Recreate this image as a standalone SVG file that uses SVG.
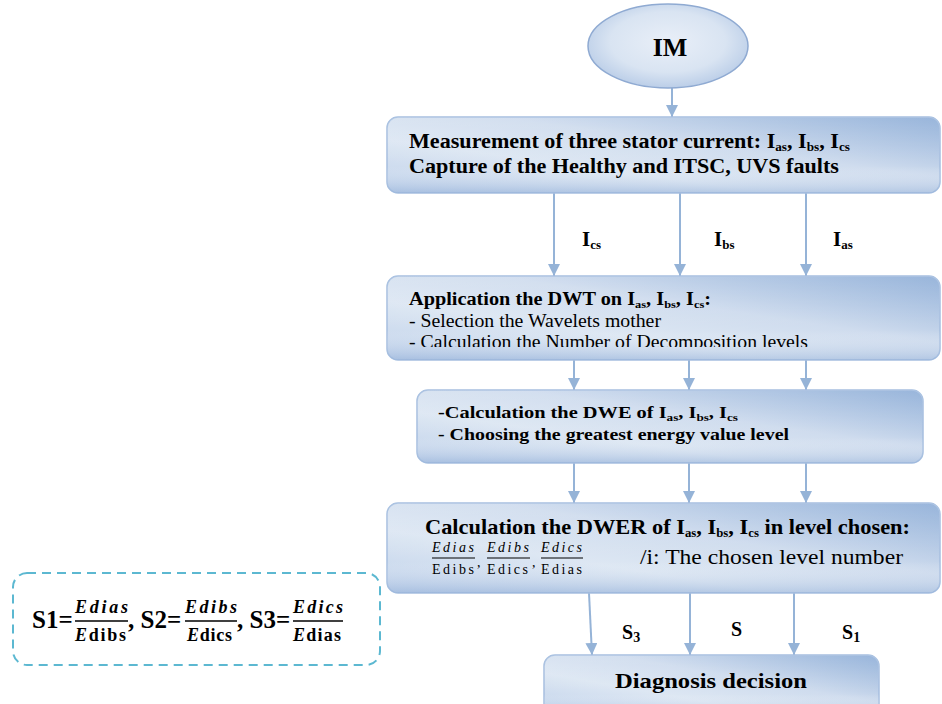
<svg xmlns="http://www.w3.org/2000/svg" width="942" height="704" viewBox="0 0 942 704" font-family="'Liberation Serif', 'DejaVu Serif', serif">
<style>
.box{fill:url(#bg);stroke:#a6bfe0;stroke-width:1.5}
.ov{fill:url(#bg2);stroke:none}
text{font-family:'Liberation Serif','DejaVu Serif',serif;fill:#000}
.b{font-weight:bold}
.c{stroke:#95b3d7;stroke-width:2;fill:none;marker-end:url(#ah)}
.m{font-style:italic}
</style>
<defs>
<linearGradient id="bg" x1="0" y1="1" x2="1" y2="0">
<stop offset="0" stop-color="#bfd1ea"/>
<stop offset="0.35" stop-color="#dde7f3"/>
<stop offset="0.6" stop-color="#cfdcee"/>
<stop offset="1" stop-color="#8dadd7"/>
</linearGradient>
<linearGradient id="bg2" x1="0" y1="0" x2="0" y2="1">
<stop offset="0" stop-color="#ffffff" stop-opacity="0.1"/>
<stop offset="0.65" stop-color="#ffffff" stop-opacity="0"/>
<stop offset="1" stop-color="#8eacd6" stop-opacity="0.5"/>
</linearGradient>
<radialGradient id="eg" cx="0.5" cy="0.45" r="0.6">
<stop offset="0" stop-color="#e9eff8"/>
<stop offset="0.6" stop-color="#d9e4f2"/>
<stop offset="1" stop-color="#b3c8e5"/>
</radialGradient>
<marker id="ah" markerUnits="userSpaceOnUse" markerWidth="14" markerHeight="12" refX="12" refY="6" orient="auto">
<path d="M0,0 L12,6 L0,12 z" fill="#95b3d7"/>
</marker>
<clipPath id="clip2"><rect x="387" y="276" width="553" height="71"/></clipPath>
</defs>

<g id="connectors">
<line class="c" x1="672" y1="88" x2="672" y2="117"/>
<line class="c" x1="554" y1="193" x2="554" y2="276"/>
<line class="c" x1="680" y1="193" x2="680" y2="276"/>
<line class="c" x1="806" y1="193" x2="806" y2="276"/>
<line class="c" x1="574" y1="360" x2="574" y2="390"/>
<line class="c" x1="689" y1="360" x2="689" y2="390"/>
<line class="c" x1="806" y1="360" x2="806" y2="390"/>
<line class="c" x1="574" y1="463" x2="574" y2="503"/>
<line class="c" x1="689" y1="463" x2="689" y2="503"/>
<line class="c" x1="806" y1="463" x2="806" y2="503"/>
<line class="c" x1="589" y1="593" x2="592" y2="655"/>
<line class="c" x1="690" y1="593" x2="690" y2="655"/>
<line class="c" x1="794" y1="593" x2="794" y2="655"/>
<text class="b" x="582" y="246" font-size="21">I<tspan font-size="13" dy="3">cs</tspan></text>
<text class="b" x="714" y="246" font-size="21">I<tspan font-size="13" dy="3">bs</tspan></text>
<text class="b" x="833" y="246" font-size="21">I<tspan font-size="13" dy="3">as</tspan></text>
<text class="b" x="622" y="639" font-size="20">S<tspan font-size="14" dy="3">3</tspan></text>
<text class="b" x="731" y="636" font-size="20">S</text>
<text class="b" x="842" y="639" font-size="20">S<tspan font-size="14" dy="3">1</tspan></text>
</g>

<g id="n-im">
<ellipse cx="668" cy="46" rx="80" ry="42" fill="url(#eg)" stroke="#8faad2" stroke-width="1.5"/>
<text class="b" x="670" y="56" font-size="26" text-anchor="middle">IM</text>
</g>

<g id="n-measure">
<rect class="box" x="387" y="117" width="553" height="76" rx="11"/>
<rect class="ov" x="387" y="117" width="553" height="76" rx="11"/>
<text class="b" x="409" y="148" font-size="20" textLength="441" lengthAdjust="spacingAndGlyphs">Measurement of three stator current: I<tspan font-size="12" dy="3">as</tspan><tspan dy="-3">, I</tspan><tspan font-size="12" dy="3">bs</tspan><tspan dy="-3">, I</tspan><tspan font-size="12" dy="3">cs</tspan></text>
<text class="b" x="409" y="173" font-size="20" textLength="430" lengthAdjust="spacingAndGlyphs">Capture of the Healthy and ITSC, UVS faults</text>
</g>

<g id="n-dwt">
<rect class="box" x="387" y="276" width="553" height="84" rx="11"/>
<rect class="ov" x="387" y="276" width="553" height="84" rx="11"/>
<g clip-path="url(#clip2)">
<text class="b" x="409" y="305" font-size="18" textLength="302" lengthAdjust="spacingAndGlyphs">Application the DWT on I<tspan font-size="11" dy="3">as</tspan><tspan dy="-3">, I</tspan><tspan font-size="11" dy="3">bs</tspan><tspan dy="-3">, I</tspan><tspan font-size="11" dy="3">cs</tspan><tspan dy="-3">:</tspan></text>
<text x="409" y="327" font-size="18" textLength="252" lengthAdjust="spacingAndGlyphs">- Selection the Wavelets mother</text>
<text x="409" y="348" font-size="18" textLength="399" lengthAdjust="spacingAndGlyphs">- Calculation the Number of Decomposition levels</text>
</g>
</g>

<g id="n-dwe">
<rect class="box" x="417" y="390" width="506" height="73" rx="11"/>
<rect class="ov" x="417" y="390" width="506" height="73" rx="11"/>
<text class="b" x="438" y="418" font-size="17" textLength="300" lengthAdjust="spacingAndGlyphs">-Calculation the DWE of  I<tspan font-size="11" dy="3">as</tspan><tspan dy="-3">, I</tspan><tspan font-size="11" dy="3">bs</tspan><tspan dy="-3">, I</tspan><tspan font-size="11" dy="3">cs</tspan></text>
<text class="b" x="438" y="440" font-size="17" textLength="351" lengthAdjust="spacingAndGlyphs">- Choosing the greatest energy value level</text>
</g>

<g id="n-dwer">
<rect class="box" x="387" y="503" width="553" height="90" rx="11"/>
<rect class="ov" x="387" y="503" width="553" height="90" rx="11"/>
<text class="b" x="425" y="534" font-size="21" textLength="485" lengthAdjust="spacingAndGlyphs">Calculation the DWER of I<tspan font-size="12" dy="3">as</tspan><tspan dy="-3">, I</tspan><tspan font-size="12" dy="3">bs</tspan><tspan dy="-3">, I</tspan><tspan font-size="12" dy="3">cs</tspan><tspan dy="-3"> in level chosen:</tspan></text>
<text class="m" x="432" y="552" font-size="14" textLength="42" lengthAdjust="spacing">Edias</text>
<line x1="432" y1="558" x2="475" y2="558" stroke="#000" stroke-width="1"/>
<text x="432" y="574" font-size="14" textLength="42" lengthAdjust="spacing">Edibs</text>
<text x="477" y="567" font-size="14">,</text>
<text class="m" x="487" y="552" font-size="14" textLength="42" lengthAdjust="spacing">Edibs</text>
<line x1="487" y1="558" x2="530" y2="558" stroke="#000" stroke-width="1"/>
<text x="487" y="574" font-size="14" textLength="41" lengthAdjust="spacing">Edics</text>
<text x="532" y="567" font-size="14">,</text>
<text class="m" x="541" y="552" font-size="14" textLength="41" lengthAdjust="spacing">Edics</text>
<line x1="541" y1="558" x2="583" y2="558" stroke="#000" stroke-width="1"/>
<text x="541" y="574" font-size="14" textLength="41" lengthAdjust="spacing">Edias</text>
<text x="640" y="564" font-size="21" textLength="263" lengthAdjust="spacingAndGlyphs">/i: The chosen level number</text>
</g>

<g id="n-decision">
<rect class="box" x="544" y="655" width="335" height="60" rx="11"/>
<rect class="ov" x="544" y="655" width="335" height="60" rx="11"/>
<text class="b" x="615" y="688" font-size="22" textLength="192" lengthAdjust="spacingAndGlyphs">Diagnosis decision</text>
</g>

<g id="n-legend">
<rect x="13" y="573" width="367" height="92" rx="14" fill="none" stroke="#5cb8d1" stroke-width="2" stroke-dasharray="9,6"/>
<text class="b" x="32" y="628" font-size="25">S1=</text>
<text class="b m" x="75" y="613" font-size="18" textLength="53" lengthAdjust="spacing">Edias</text>
<line x1="75" y1="621" x2="128" y2="621" stroke="#000" stroke-width="1.5"/>
<text class="b" x="75" y="641" font-size="18" textLength="51" lengthAdjust="spacing"><tspan font-style="italic">E</tspan>dibs</text>
<text class="b" x="128" y="628" font-size="25">, S2=</text>
<text class="b m" x="185" y="613" font-size="18" textLength="52" lengthAdjust="spacing">Edibs</text>
<line x1="185" y1="621" x2="237" y2="621" stroke="#000" stroke-width="1.5"/>
<text class="b" x="187" y="641" font-size="18" textLength="45" lengthAdjust="spacing"><tspan font-style="italic">E</tspan>dics</text>
<text class="b" x="237" y="628" font-size="25">, S3=</text>
<text class="b m" x="293" y="613" font-size="18" textLength="50" lengthAdjust="spacing">Edics</text>
<line x1="293" y1="621" x2="343" y2="621" stroke="#000" stroke-width="1.5"/>
<text class="b" x="293" y="641" font-size="18" textLength="48" lengthAdjust="spacing"><tspan font-style="italic">E</tspan>dias</text>
</g>
</svg>
